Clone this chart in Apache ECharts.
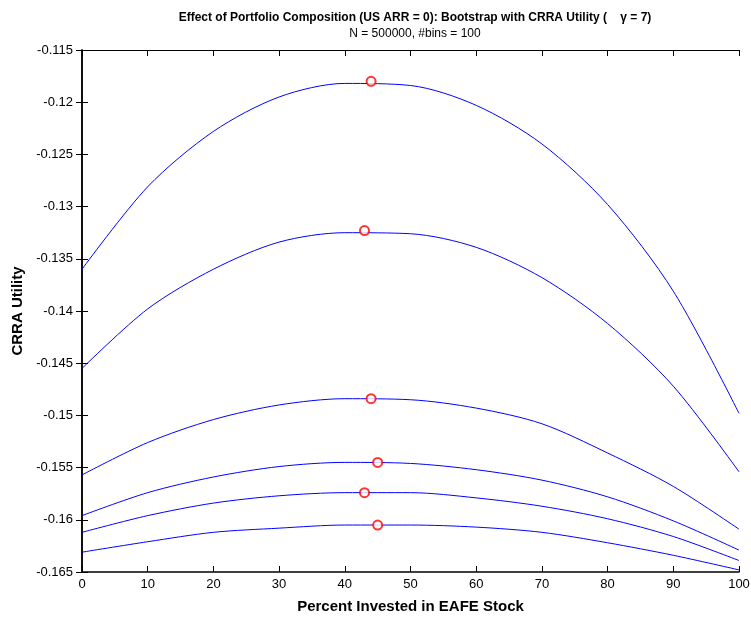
<!DOCTYPE html>
<html>
<head>
<meta charset="utf-8">
<script src="https://cdn.jsdelivr.net/npm/echarts@6/dist/echarts.min.js"></script>
<style>
html,body{margin:0;padding:0;background:#fff;}
#chart{width:751px;height:617px;}
</style>
</head>
<body>
<div id="chart"></div>
<script>
// percent invested in EAFE stock
var pct = [0, 10, 20, 30, 40, 50, 60, 70, 80, 90, 100];
// CRRA utility curves, top to bottom
var curve1 = [-0.1360, -0.1281, -0.1228, -0.1195, -0.1182, -0.1184, -0.1203, -0.1240, -0.1298, -0.1381, -0.1498];
var curve2 = [-0.1455, -0.1398, -0.1360, -0.1334, -0.1325, -0.1326, -0.1339, -0.1368, -0.1412, -0.1472, -0.1554];
var curve3 = [-0.1557, -0.1526, -0.1504, -0.1490, -0.1484, -0.1485, -0.1493, -0.1508, -0.1536, -0.1568, -0.1609];
var curve4 = [-0.1596, -0.1574, -0.1559, -0.1549, -0.1545, -0.1546, -0.1552, -0.1562, -0.1578, -0.1601, -0.1629];
var curve5 = [-0.1612, -0.1596, -0.1584, -0.1577, -0.1574, -0.1574, -0.1579, -0.1587, -0.1599, -0.1616, -0.1639];
var curve6 = [-0.1631, -0.1621, -0.1612, -0.1608, -0.1605, -0.1605, -0.1607, -0.1612, -0.1622, -0.1634, -0.1648];
// optimum markers (x, utility)
var optX = [44, 43, 44, 45, 43, 45];
var optY = [-0.1180, -0.1323, -0.1484, -0.1545, -0.1574, -0.1605];

(function() {
	var myChart = echarts.init(document.getElementById('chart'));
	var curves = [curve1, curve2, curve3, curve4, curve5, curve6];
	var series = [];
	curves.forEach(function(c) {
		series.push({
			type: 'line',
			data: pct.map(function(x, i) { return [x, c[i]]; }),
			smooth: 0.3,
			showSymbol: false,
			lineStyle: { color: '#0000ff', width: 1 },
			xAxisIndex: 0,
			yAxisIndex: 0
		});
	});
	series.push({
		type: 'scatter',
		data: optX.map(function(x, i) { return [x, optY[i]]; }),
		symbol: 'emptyCircle',
		symbolSize: 9,
		itemStyle: { color: '#ff0000', borderColor: '#ff0000', borderWidth: 1 },
		z: 5
	});

	var tickStyle = { show: true, inside: true, length: 6, lineStyle: { color: '#000' } };
	var option = {
		animation: false,
		title: {
			text: 'Effect of Portfolio Composition (US ARR = 0): Bootstrap with CRRA Utility (    γ = 7)',
			subtext: 'N = 500000, #bins = 100',
			left: 410,
			textAlign: 'center',
			top: 7,
			itemGap: 4,
			textStyle: { fontFamily: 'Liberation Sans', fontSize: 12, fontWeight: 'bold', color: '#000' },
			subtextStyle: { fontFamily: 'Liberation Sans', fontSize: 12, color: '#000' }
		},
		grid: { left: 82, top: 50, right: 12, bottom: 45, outerBoundsMode: 'none', containLabel: false },
		xAxis: [{
			type: 'value',
			min: 0, max: 100, interval: 10,
			name: 'Percent Invested in EAFE Stock',
			nameLocation: 'middle',
			nameGap: 27,
			nameTextStyle: { fontFamily: 'Liberation Sans', fontSize: 15, fontWeight: 'bold', color: '#000' },
			axisLine: { show: true, lineStyle: { color: '#000', width: 1.5 } },
			axisTick: tickStyle,
			axisLabel: { fontFamily: 'Liberation Sans', fontSize: 13, color: '#000', margin: 6 },
			splitLine: { show: false }
		}, {
			type: 'value',
			position: 'top',
			min: 0, max: 100, interval: 10,
			axisLine: { show: true, lineStyle: { color: '#000', width: 1 } },
			axisTick: tickStyle,
			axisLabel: { show: false },
			splitLine: { show: false }
		}],
		yAxis: [{
			type: 'value',
			min: -0.165, max: -0.115, interval: 0.005,
			name: 'CRRA Utility',
			nameLocation: 'middle',
			nameGap: 56,
			nameTextStyle: { fontFamily: 'Liberation Sans', fontSize: 15, fontWeight: 'bold', color: '#000' },
			axisLine: { show: true, lineStyle: { color: '#000', width: 1.5 } },
			axisTick: tickStyle,
			axisLabel: { fontFamily: 'Liberation Sans', fontSize: 13, color: '#000', margin: 9 },
			splitLine: { show: false }
		}, {
			type: 'value',
			position: 'right',
			min: -0.165, max: -0.115, interval: 0.005,
			axisLine: { show: true, lineStyle: { color: '#000', width: 1.5 } },
			axisTick: tickStyle,
			axisLabel: { show: false },
			splitLine: { show: false }
		}],
		series: series
	};
	myChart.setOption(option);
})();
</script>
</body>
</html>
